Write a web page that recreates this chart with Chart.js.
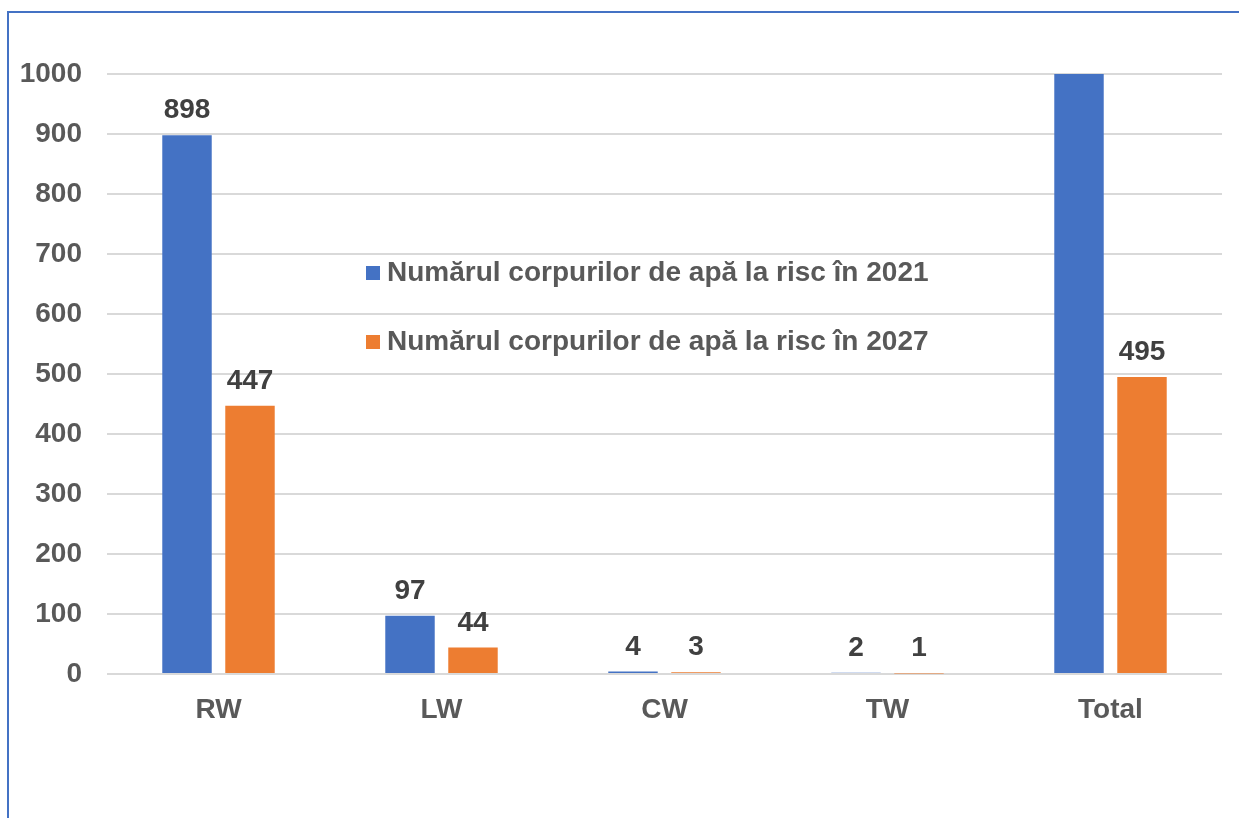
<!DOCTYPE html>
<html>
<head>
<meta charset="utf-8">
<script src="https://cdn.jsdelivr.net/npm/chart.js@4/dist/chart.umd.min.js"></script>
<style>
html,body{margin:0;padding:0;background:#fff;overflow:hidden;}
#wrap{position:relative;width:1239px;height:818px;}
#frame{position:absolute;left:7px;top:11px;width:1300px;height:900px;border-left:2px solid #4472C4;border-top:2px solid #4472C4;box-sizing:border-box;pointer-events:none;}
canvas{position:absolute;left:0;top:0;}
</style>
</head>
<body>
<div id="wrap">
<canvas id="c" width="1239" height="818"></canvas>
<div id="frame"></div>
</div>
<script>
const categories = ['RW', 'LW', 'CW', 'TW', 'Total'];
const seriesNames = ['Numărul corpurilor de apă la risc în 2021', 'Numărul corpurilor de apă la risc în 2027'];
const values2021 = [898, 97, 4, 2, 1001];
const values2027 = [447, 44, 3, 1, 495];
const yMin = 0, yMax = 1000, yStep = 100;

const FONT = '"Liberation Sans", Arial, sans-serif';
const FS = 28;

const valueLabels = {
  id: 'valueLabels',
  afterDatasetsDraw(chart) {
    const ctx = chart.ctx;
    ctx.save();
    ctx.font = 'bold ' + FS + 'px ' + FONT;
    ctx.fillStyle = '#404040';
    ctx.textAlign = 'center';
    ctx.textBaseline = 'alphabetic';
    chart.data.datasets.forEach((ds, i) => {
      const meta = chart.getDatasetMeta(i);
      meta.data.forEach((bar, j) => {
        const v = ds.data[j];
        if (v > yMax) return;
        ctx.fillText(String(v), bar.x, bar.y - 17);
      });
    });
    ctx.restore();
  }
};

const innerLegend = {
  id: 'innerLegend',
  afterDraw(chart) {
    const ctx = chart.ctx;
    const a = chart.chartArea;
    ctx.save();
    ctx.font = 'bold ' + FS + 'px ' + FONT;
    ctx.textBaseline = 'middle';
    ctx.textAlign = 'left';
    const rows = [a.top + 199, a.top + 268];
    chart.data.datasets.forEach((ds, i) => {
      const y = rows[i];
      ctx.fillStyle = ds.backgroundColor;
      ctx.fillRect(a.left + 259, y - 7, 14, 14);
      ctx.fillStyle = '#595959';
      ctx.fillText(ds.label, a.left + 280, y);
    });
    ctx.restore();
  }
};

new Chart(document.getElementById('c'), {
  type: 'bar',
  data: {
    labels: categories,
    datasets: [
      { label: seriesNames[0], data: values2021, backgroundColor: '#4472C4' },
      { label: seriesNames[1], data: values2027, backgroundColor: '#ED7D31' }
    ]
  },
  options: {
    responsive: false,
    animation: false,
    devicePixelRatio: 1,
    layout: { padding: { top: 74, right: 17, left: 0, bottom: 0 } },
    datasets: { bar: { categoryPercentage: 0.565, barPercentage: 0.785 } },
    plugins: { legend: { display: false }, tooltip: { enabled: false } },
    scales: {
      x: {
        grid: { display: false },
        border: { display: false },
        ticks: { color: '#595959', font: { family: FONT, size: FS, weight: 'bold' }, padding: 11 },
        afterFit(s) { s.height = 144; }
      },
      y: {
        min: yMin, max: yMax,
        grid: { color: '#d9d9d9', lineWidth: 2, drawTicks: false },
        border: { display: false },
        ticks: { stepSize: yStep, color: '#595959', font: { family: FONT, size: FS, weight: 'bold' }, padding: 25,
                 callback: (v) => String(v) },
        afterFit(s) { s.width = 107; }
      }
    }
  },
  plugins: [valueLabels, innerLegend]
});
</script>
</body>
</html>
